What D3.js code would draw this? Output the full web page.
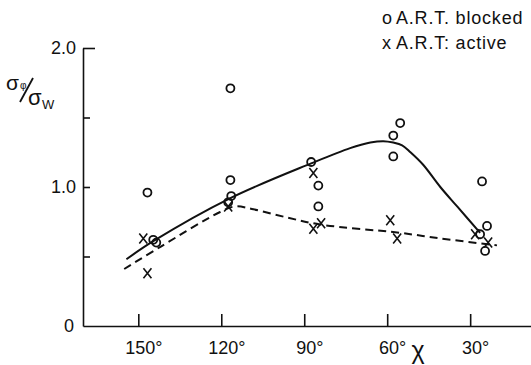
<!DOCTYPE html>
<html>
<head>
<meta charset="utf-8">
<script src="https://cdn.jsdelivr.net/npm/d3@7"></script>
<style>
  body { margin: 0; background: #fff; }
  svg { display: block; }
  text { font-family: "Liberation Sans", "DejaVu Sans", sans-serif; fill: #111; }
  .axis path, .axis line { stroke: #111; stroke-width: 1.6; }
  .axis text { font-size: 18px; }
</style>
</head>
<body>
<script>
// Chart size
const svgWidth = 531;
const svgHeight = 365;

// Tick values and labels
const chiTicks = [150, 120, 90, 60, 30];
const ratioTicks = [0, 0.5, 1.0, 1.5, 2.0];
const ratioLabels = ["0", "", "1.0", "", "2.0"];

// A.R.T. blocked (circles)
const blockedChi = [146.7, 144.6, 143.5, 116.7, 116.7, 116.4, 117.5, 87.5, 84.9, 84.9, 55.3, 57.8, 57.8, 25.7, 23.9, 26.4, 24.6];
const blockedVal = [0.96, 0.62, 0.60, 1.71, 1.05, 0.935, 0.89, 1.18, 1.01, 0.86, 1.46, 1.37, 1.22, 1.04, 0.72, 0.66, 0.54];

// A.R.T. active (crosses)
const activeChi = [148.2, 146.7, 117.5, 86.7, 86.7, 83.9, 58.9, 56.4, 28.2, 23.5];
const activeVal = [0.63, 0.38, 0.86, 1.10, 0.70, 0.74, 0.76, 0.63, 0.66, 0.60];

// Fitted curve, blocked (solid)
const blockedFitChi = [154.3, 144.6, 116.7, 87.5, 73.4, 66.1, 61.4, 57.8, 54.6, 51.6, 47.0, 40.8, 34.7, 26.4];
const blockedFitVal = [0.48, 0.61, 0.92, 1.17, 1.28, 1.32, 1.33, 1.32, 1.30, 1.25, 1.16, 1.00, 0.86, 0.67];

// Fitted curve, active (dashed)
const activeFitChi = [155.1, 142.0, 120.4, 115.0, 108.4, 96.1, 84.2, 55.3, 40.8, 20.3];
const activeFitVal = [0.41, 0.57, 0.82, 0.86, 0.84, 0.78, 0.73, 0.67, 0.63, 0.58];

let svg = d3.select("body")
  .append("svg")
  .attr("width", svgWidth)
  .attr("height", svgHeight);

// Scales (chi runs right to left)
let xScale = d3.scaleLinear().domain([170, 8]).range([83, 531]);
let yScale = d3.scaleLinear().domain([0, 2]).range([326, 48]);

// Bottom axis with ticks pointing up
let bottomAxis = d3.axisBottom(xScale)
  .tickValues(chiTicks)
  .tickSizeInner(-12)
  .tickSizeOuter(0)
  .tickPadding(15)
  .tickFormat(d => d + "°");

let xAxisG = svg.append("g")
  .classed("axis", true)
  .attr("transform", `translate(0, ${yScale(0)})`)
  .call(bottomAxis);
xAxisG.selectAll(".tick text").attr("dx", 5);

// Left axis with ticks pointing right
let leftAxis = d3.axisLeft(yScale)
  .tickValues(ratioTicks)
  .tickSizeInner(-7)
  .tickSizeOuter(0)
  .tickPadding(7)
  .tickFormat((d, i) => ratioLabels[i]);

let yAxisG = svg.append("g")
  .classed("axis", true)
  .attr("transform", `translate(${xScale(170)}, 0)`)
  .call(leftAxis);
yAxisG.selectAll(".tick line").filter(d => d === 0).remove();
yAxisG.selectAll(".tick line").filter(d => d === 2).attr("x2", 12);
yAxisG.selectAll(".tick text").filter(d => d === 0).attr("dx", -2);

// Fit lines
let line = d3.line()
  .x(d => xScale(d[0]))
  .y(d => yScale(d[1]))
  .curve(d3.curveCatmullRom.alpha(0.5));

svg.append("path")
  .attr("d", line(d3.zip(blockedFitChi, blockedFitVal)))
  .attr("fill", "none")
  .attr("stroke", "#111")
  .attr("stroke-width", 2);

svg.append("path")
  .attr("d", line(d3.zip(activeFitChi, activeFitVal)))
  .attr("fill", "none")
  .attr("stroke", "#111")
  .attr("stroke-width", 2)
  .attr("stroke-dasharray", "8,5");

// Circles
svg.selectAll(".blocked")
  .data(d3.zip(blockedChi, blockedVal))
  .enter()
  .append("circle")
  .attr("cx", d => xScale(d[0]))
  .attr("cy", d => yScale(d[1]))
  .attr("r", 4)
  .attr("fill", "none")
  .attr("stroke", "#111")
  .attr("stroke-width", 1.8);

// Crosses
svg.selectAll(".active")
  .data(d3.zip(activeChi, activeVal))
  .enter()
  .append("path")
  .attr("d", d => {
    let cx = xScale(d[0]), cy = yScale(d[1]);
    return `M${cx - 4},${cy - 5}L${cx + 4},${cy + 5}M${cx + 4},${cy - 5}L${cx - 4},${cy + 5}`;
  })
  .attr("stroke", "#111")
  .attr("stroke-width", 1.6);

// Axis titles
svg.append("text").attr("x", 418).attr("y", 359)
  .attr("text-anchor", "middle").style("font-size", "25px").text("χ");

let yTitle = svg.append("g").style("font-family", "DejaVu Sans");
yTitle.append("text").attr("x", 6).attr("y", 90).style("font-size", "21px").text("σ");
yTitle.append("text").attr("x", 20).attr("y", 89).style("font-size", "10px").text("φ");
yTitle.append("line").attr("x1", 20).attr("y1", 102).attr("x2", 33).attr("y2", 78)
  .attr("stroke", "#111").attr("stroke-width", 1.8);
yTitle.append("text").attr("x", 28).attr("y", 105).style("font-size", "22px").text("σ");
yTitle.append("text").attr("x", 42).attr("y", 109).style("font-size", "13px").text("W");

// Legend
let legend = svg.append("g").style("font-size", "18px").style("letter-spacing", "0.8px");
legend.append("text").attr("x", 382).attr("y", 24).text("o");
legend.append("text").attr("x", 396).attr("y", 24).text("A.R.T. blocked");
legend.append("text").attr("x", 382).attr("y", 49).text("x");
legend.append("text").attr("x", 396).attr("y", 49).text("A.R.T: active");
</script>
</body>
</html>
